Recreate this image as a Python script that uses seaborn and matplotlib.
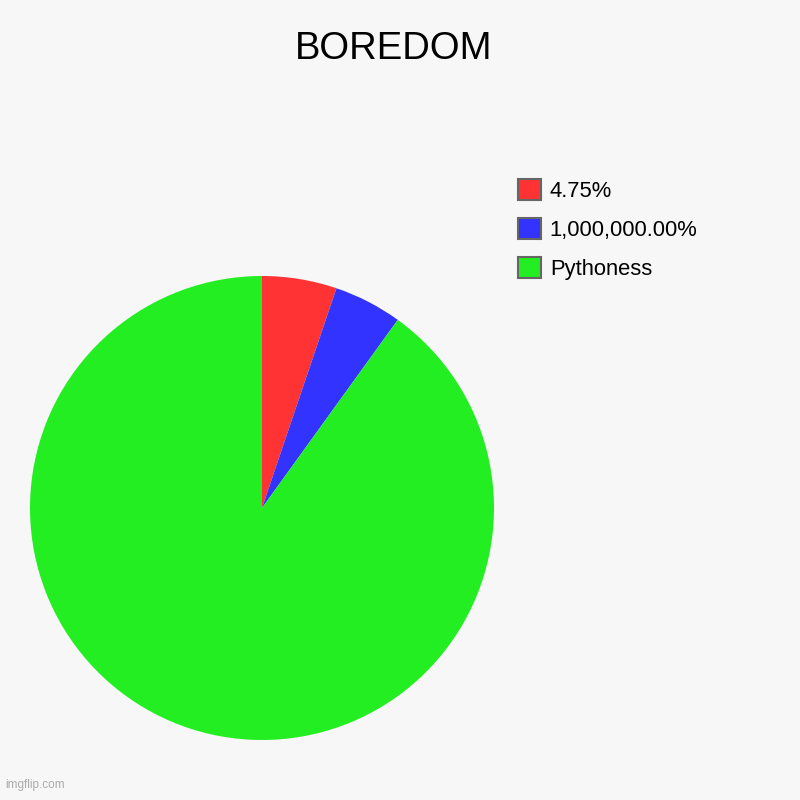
import matplotlib
matplotlib.use('Agg')
import matplotlib.pyplot as plt
import seaborn as sns

# data
labels = ['4.75%', '1,000,000.00%', 'Pythoness']
values = [5.2, 4.75, 90.05]
colors = ['#ff3333', '#3333ff', '#22ee22']

sns.set_style('white')
plt.rcParams['font.family'] = ['Liberation Sans', 'DejaVu Sans']
plt.rcParams['text.color'] = 'black'

fig = plt.figure(figsize=(8, 8), dpi=100, facecolor='#f7f7f7')
ax = fig.add_axes([0.0375, 0.075, 0.58, 0.58])
ax.set_facecolor('#f7f7f7')

pal = sns.color_palette(colors)
wedges, _ = ax.pie(values, colors=pal, startangle=90, counterclock=False,
                   wedgeprops=dict(linewidth=0))
ax.set_xlim(-1, 1)
ax.set_ylim(-1, 1)
ax.set_aspect('equal')
ax.axis('off')

fig.text(0.4925, 0.9385, 'BOREDOM', ha='center', va='center', fontsize=27.5, color='black')

handles = [plt.Rectangle((0, 0), 1, 1, facecolor=c, edgecolor='#666666', linewidth=1.5)
           for c in pal]
fig.legend(handles, labels, loc='upper left', bbox_to_anchor=(0.648, 0.776),
           frameon=False, fontsize=15.8, handlelength=1.05, handleheight=1.05,
           handletextpad=0.38, labelspacing=0.75, borderaxespad=0, borderpad=0,
           labelcolor='black')

fig.text(0.006, 0.011, 'imgflip.com', ha='left', va='bottom', fontsize=8.5, color='#aaaaaa')

fig.savefig('out.png', dpi=100, facecolor=fig.get_facecolor())
